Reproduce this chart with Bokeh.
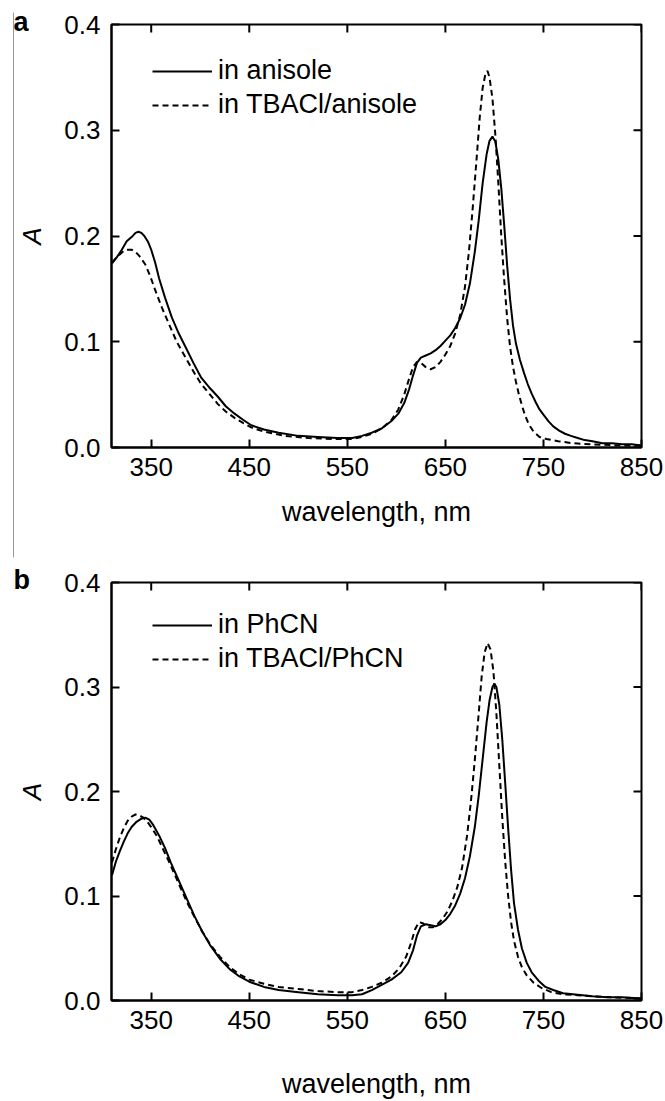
import math
from bokeh.plotting import figure
from bokeh.layouts import row, column
from bokeh.models import (FixedTicker, NumeralTickFormatter, Legend, LegendItem, Title, Range1d)
from bokeh.embed import file_html
from bokeh.resources import INLINE

# ---------------- data ----------------
x_ticks = [350, 450, 550, 650, 750, 850]
y_ticks = [0.0, 0.1, 0.2, 0.3, 0.4]

# panel a: in anisole (solid)
wl_a1 = [310, 315, 320, 325, 330, 334, 337, 340, 343, 347, 350, 354, 358, 364, 371, 378, 385, 393,
         401, 410, 418, 426, 435, 444, 452, 465, 480, 500, 520, 540, 555, 565, 575, 585, 595, 602,
         608, 613, 617, 621, 625, 630, 635, 640, 645, 650, 655, 660, 665, 670, 675, 680, 684, 688,
         692, 695, 698, 701, 704, 707, 710, 713, 716, 719, 722, 726, 730, 734, 738, 742, 746, 750,
         755, 760, 766, 772, 778, 785, 792, 800, 810, 820, 830, 840, 850]
ab_a1 = [.174, .180, .187, .195, .199, .203, .204, .203, .200, .194, .187, .175, .160, .142, .123,
         .108, .095, .080, .066, .056, .048, .039, .032, .026, .021, .017, .014, .011, .010, .009,
         .009, .011, .014, .018, .025, .032, .042, .055, .068, .080, .085, .087, .089, .092, .096,
         .101, .106, .113, .122, .135, .155, .185, .215, .250, .277, .290, .294, .289, .272, .245,
         .210, .172, .140, .115, .098, .083, .071, .060, .051, .043, .036, .031, .025, .020, .016,
         .013, .011, .009, .007, .006, .004, .004, .003, .003, .002]

# panel a: in TBACl/anisole (dashed)
wl_a2 = [310, 316, 322, 326, 330, 334, 338, 344, 349, 354, 361, 368, 376, 385, 393, 401, 410, 418,
         426, 435, 444, 452, 465, 486, 510, 537, 555, 565, 575, 585, 595, 602, 608, 613, 617, 621,
         625, 630, 635, 640, 645, 650, 655, 660, 665, 670, 674, 678, 682, 685, 688, 691, 693, 695,
         698, 701, 704, 707, 710, 713, 716, 719, 722, 725, 728, 731, 735, 740, 746, 753, 765, 780,
         800, 825, 850]
ab_a2 = [.175, .181, .186, .187, .187, .185, .181, .173, .162, .149, .132, .117, .100, .085, .072,
         .060, .050, .041, .034, .028, .023, .019, .015, .011, .009, .008, .008, .010, .013, .018,
         .026, .036, .050, .065, .076, .081, .080, .076, .074, .076, .081, .088, .096, .108, .125,
         .152, .185, .228, .275, .312, .340, .354, .356, .350, .330, .295, .250, .200, .158, .122,
         .095, .076, .062, .050, .040, .031, .022, .015, .010, .008, .006, .004, .003, .002, .002]

# panel b: in PhCN (solid)
wl_b1 = [310, 314, 318, 322, 326, 330, 335, 340, 344, 348, 352, 358, 364, 370, 378, 386, 394, 402,
         410, 420, 430, 440, 450, 465, 480, 500, 520, 540, 555, 565, 575, 585, 595, 605, 612, 617,
         621, 625, 630, 635, 640, 645, 650, 655, 660, 665, 670, 675, 680, 684, 688, 692, 695, 698,
         700, 702, 705, 708, 711, 714, 717, 720, 724, 728, 733, 738, 745, 752, 760, 770, 780, 790,
         800, 815, 830, 850]
ab_b1 = [.120, .133, .143, .152, .160, .166, .171, .174, .175, .173, .168, .158, .146, .132, .115,
         .098, .081, .066, .053, .040, .030, .023, .018, .013, .010, .008, .006, .005, .005, .006,
         .010, .015, .020, .027, .036, .048, .062, .071, .073, .072, .071, .073, .077, .083, .091,
         .102, .117, .138, .166, .196, .231, .266, .287, .300, .303, .300, .283, .250, .208, .165,
         .125, .093, .068, .050, .036, .027, .019, .013, .010, .007, .006, .005, .004, .003, .003,
         .002]

# panel b: in TBACl/PhCN (dashed)
wl_b2 = [310, 314, 318, 322, 326, 330, 334, 338, 342, 346, 350, 356, 362, 370, 378, 386, 394, 402,
         410, 420, 430, 440, 450, 465, 480, 500, 520, 540, 555, 565, 575, 585, 595, 603, 610, 615,
         619, 623, 627, 632, 637, 642, 647, 652, 657, 662, 667, 672, 676, 680, 684, 687, 690, 693,
         696, 699, 702, 705, 708, 711, 714, 717, 720, 724, 728, 733, 740, 748, 758, 770, 785, 800,
         820, 850]
ab_b2 = [.132, .145, .156, .165, .172, .176, .178, .177, .175, .171, .166, .157, .145, .129, .112,
         .095, .080, .066, .054, .042, .032, .025, .020, .016, .013, .011, .009, .008, .008, .010,
         .013, .017, .023, .031, .042, .055, .068, .075, .074, .070, .070, .073, .078, .085, .095,
         .108, .127, .157, .190, .230, .275, .310, .333, .342, .336, .315, .275, .225, .175, .133,
         .100, .075, .057, .042, .032, .024, .017, .012, .008, .006, .005, .004, .003, .002]

labels_a = ["in anisole", "in TBACl/anisole"]
labels_b = ["in PhCN", "in TBACl/PhCN"]
panel_tags = ["a", "b"]

FONT = "Liberation Sans"
X_START, X_END = 309.5, 850
Y_START, Y_END = 0.0, 0.4


def make_panel(tag, wl1, ab1, wl2, ab2, labels, top_border, bottom_border, height,
               xlab_standoff, legend_y):
    p = figure(width=651, height=height, x_range=Range1d(X_START, X_END),
               y_range=Range1d(Y_START, Y_END),
               output_backend="svg", toolbar_location=None,
               min_border_left=92, min_border_right=24,
               min_border_top=top_border, min_border_bottom=bottom_border)
    p.grid.visible = False
    p.outline_line_color = "black"
    p.outline_line_width = 2
    p.background_fill_color = "white"
    p.border_fill_color = "white"

    r1 = p.line(wl1, ab1, line_color="black", line_width=2)
    r2 = p.line(wl2, ab2, line_color="black", line_width=2, line_dash="6 4")

    # inward ticks on the top and right edges of the frame
    p.ray(x=x_ticks, y=[Y_END] * len(x_ticks), length=8, angle=-math.pi / 2,
          length_units="screen", line_color="black", line_width=2)
    p.ray(x=[X_END] * len(y_ticks), y=y_ticks, length=8, angle=math.pi,
          length_units="screen", line_color="black", line_width=2)

    for ax in [p.xaxis[0], p.yaxis[0]]:
        ax.axis_line_width = 2
        ax.major_tick_line_width = 2
        ax.major_tick_in = 8
        ax.major_tick_out = 0
        ax.minor_tick_line_color = None
        ax.major_label_text_font = FONT
        ax.major_label_text_font_size = "26px"
        ax.major_label_text_color = "black"
        ax.axis_label_text_font = FONT
        ax.axis_label_text_color = "black"

    p.xaxis[0].ticker = FixedTicker(ticks=x_ticks)
    p.yaxis[0].ticker = FixedTicker(ticks=y_ticks)
    p.yaxis[0].formatter = NumeralTickFormatter(format="0.0")
    p.xaxis[0].axis_label = "wavelength, nm"
    p.xaxis[0].axis_label_text_font_size = "27px"
    p.xaxis[0].axis_label_text_font_style = "normal"
    p.xaxis[0].major_label_standoff = 10
    p.xaxis[0].axis_label_standoff = xlab_standoff
    p.yaxis[0].axis_label = "A"
    p.yaxis[0].axis_label_text_font_size = "26px"
    p.yaxis[0].axis_label_text_font_style = "italic"
    p.yaxis[0].major_label_standoff = 11
    p.yaxis[0].axis_label_standoff = 14

    legend = Legend(items=[LegendItem(label=labels[0], renderers=[r1]),
                           LegendItem(label=labels[1], renderers=[r2])],
                    location=(41, legend_y), border_line_color=None, background_fill_alpha=0,
                    label_text_font=FONT, label_text_font_size="27px",
                    label_text_color="black",
                    glyph_width=60, glyph_height=30, label_height=30, label_standoff=6,
                    spacing=3, padding=0, margin=0)
    p.add_layout(legend)

    p.add_layout(Title(text=tag, align="left", offset=-98, standoff=-24,
                       vertical_align="bottom", text_font=FONT, text_font_size="27px",
                       text_font_style="bold", text_color="black"), "above")
    return p


fa = make_panel(panel_tags[0], wl_a1, ab_a1, wl_a2, ab_a2, labels_a, 24, 113, 560, 18, 327)
fb = make_panel(panel_tags[1], wl_b1, ab_b1, wl_b2, ab_b2, labels_b, 22, 97, 541, 37, 326)

sep = figure(width=14, height=560, x_range=Range1d(0, 14), y_range=Range1d(0, 560),
             output_backend="svg", toolbar_location=None, min_border=0,
             x_axis_location=None, y_axis_location=None, outline_line_color=None)
sep.grid.visible = False
sep.line([13.5, 13.5], [3, 548], line_color="#333333", line_width=1)

layout = row(sep, column(fa, fb))
open("out.html", "w").write(file_html(layout, INLINE))
